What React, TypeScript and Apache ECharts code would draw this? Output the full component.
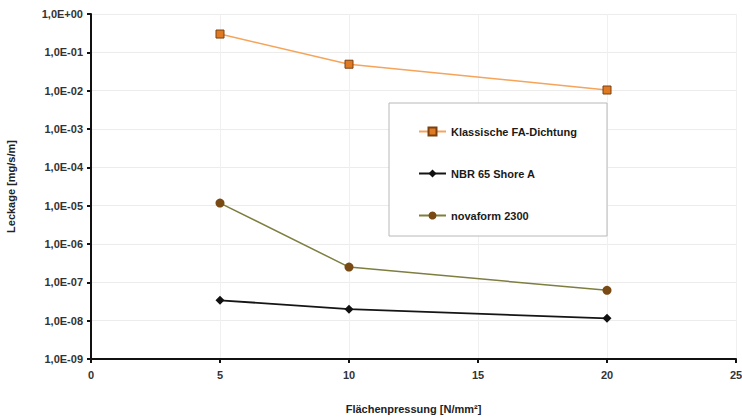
import React, { useEffect, useRef } from "react";
import * as echarts from "echarts";

const xValues = [5, 10, 20];
const klassische = [0.3, 0.049, 0.0104];
const nbr = [3.4e-8, 2.0e-8, 1.15e-8];
const novaform = [1.17e-5, 2.5e-7, 6.2e-8];
const seriesNames = ["Klassische FA-Dichtung", "NBR 65 Shore A", "novaform 2300"];

const fmtLog = (v: number) => {
  const e = Math.round(Math.log10(v));
  return "1,0E" + (e >= 0 ? "+" : "-") + String(Math.abs(e)).padStart(2, "0");
};

export default function App() {
  const ref = useRef<HTMLDivElement>(null);
  useEffect(() => {
    if (!ref.current) return;
    const chart = echarts.init(ref.current, undefined, { renderer: "svg" });
    const font = "Liberation Sans, Arial, sans-serif";
    const pair = (ys: number[]) => xValues.map((x, i) => [x, ys[i]]);
    chart.setOption({
      animation: false,
      backgroundColor: "#ffffff",
      grid: { left: 91, right: 6, top: 14, bottom: 58, outerBoundsMode: "none", containLabel: false },
      graphic: [
        {
          type: "rect",
          shape: { x: 389, y: 103, width: 218, height: 133 },
          style: { fill: "#ffffff", stroke: "#b8b8b8", lineWidth: 1 },
          z: 5,
        },
      ],
      legend: {
        orient: "vertical",
        left: 413,
        top: 121,
        itemGap: 31,
        itemWidth: 27,
        itemHeight: 10,
        z: 10,
        textStyle: { fontFamily: font, fontWeight: "bold", fontSize: 11, color: "#1a1a1a" },
        data: seriesNames,
      },
      xAxis: {
        type: "value",
        min: 0,
        max: 25,
        interval: 5,
        name: "Flächenpressung [N/mm²]",
        nameLocation: "middle",
        nameGap: 44,
        nameTextStyle: { fontFamily: font, fontWeight: "bold", fontSize: 11, color: "#222" },
        axisLine: { show: true, lineStyle: { color: "#111", width: 2 } },
        axisTick: { show: true, length: 4, lineStyle: { color: "#111", width: 2 } },
        axisLabel: { fontFamily: font, fontWeight: "bold", fontSize: 11, color: "#333", margin: 10 },
        splitLine: { show: true, lineStyle: { color: "#f0f0f0", width: 1 } },
      },
      yAxis: {
        type: "log",
        logBase: 10,
        min: 1e-9,
        max: 1,
        interval: 1,
        name: "Leckage [mg/s/m]",
        nameLocation: "middle",
        nameGap: 75,
        nameTextStyle: { fontFamily: font, fontWeight: "bold", fontSize: 11, color: "#222" },
        axisLine: { show: true, lineStyle: { color: "#111", width: 2 } },
        axisTick: { show: true, length: 4, lineStyle: { color: "#111", width: 2 } },
        axisLabel: {
          fontFamily: font,
          fontWeight: "bold",
          fontSize: 11,
          color: "#333",
          margin: 8,
          formatter: fmtLog,
        },
        splitLine: { show: true, lineStyle: { color: "#ececec", width: 1 } },
      },
      series: [
        {
          name: seriesNames[0],
          type: "line",
          data: pair(klassische),
          symbol: "rect",
          symbolSize: 8,
          lineStyle: { color: "#f6a45a", width: 1.5 },
          itemStyle: { color: "#e07a22", borderColor: "#7a4010", borderWidth: 1 },
          z: 3,
        },
        {
          name: seriesNames[1],
          type: "line",
          data: pair(nbr),
          symbol: "diamond",
          symbolSize: 9,
          lineStyle: { color: "#151515", width: 1.8 },
          itemStyle: { color: "#111" },
          z: 3,
        },
        {
          name: seriesNames[2],
          type: "line",
          data: pair(novaform),
          symbol: "circle",
          symbolSize: 9,
          lineStyle: { color: "#7e7e40", width: 1.5 },
          itemStyle: { color: "#7a4a14" },
          z: 3,
        },
      ],
    });
    return () => chart.dispose();
  }, []);
  return <div ref={ref} style={{ width: 742, height: 417, position: "absolute", left: 0, top: 0 }} />;
}
